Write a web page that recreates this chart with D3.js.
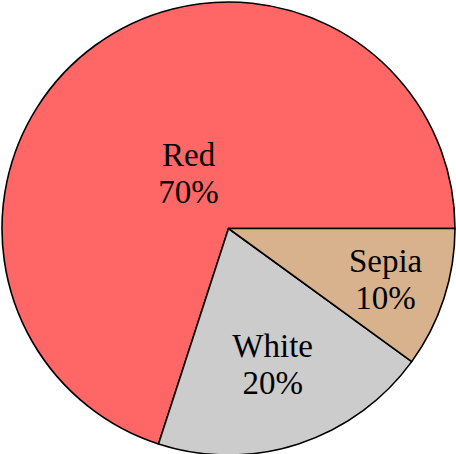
<!DOCTYPE html>
<html>
<head>
<meta charset="utf-8">
<script src="https://cdn.jsdelivr.net/npm/d3@7"></script>
<style>
  html, body { margin: 0; padding: 0; background: #ffffff; }
  svg { display: block; }
</style>
</head>
<body>
<svg id="chart" width="456" height="454"></svg>
<script>
// Slice data
const categories = ["Red", "White", "Sepia"];
const percentages = [70, 20, 10];
const sliceColors = ["#ff6666", "#cccccc", "#d8b28c"];

const width = 456, height = 454;
const cx = 228.5, cy = 228.5, radius = 226.5;

const svg = d3.select("#chart");
const g = svg.append("g").attr("transform", `translate(${cx},${cy})`);

// Slices run counter-clockwise starting from 3 o'clock
const pie = d3.pie()
  .sort(null)
  .value(d => d.value)
  .startAngle(Math.PI / 2)
  .endAngle(Math.PI / 2 - 2 * Math.PI);

const data = categories.map((c, i) => ({ name: c, value: percentages[i], color: sliceColors[i] }));
const arcs = pie(data);

const arc = d3.arc().innerRadius(0).outerRadius(radius);

g.selectAll("path.slice")
  .data(arcs)
  .join("path")
  .attr("class", "slice")
  .attr("d", arc)
  .attr("fill", d => d.data.color)
  .attr("stroke", "#000")
  .attr("stroke-width", 1.6)
  .attr("stroke-linejoin", "round");

// Label distance shrinks for wide slices
function labelRadius(d) {
  const spanDeg = Math.abs(d.endAngle - d.startAngle) * 180 / Math.PI;
  const shift = Math.max(Math.min((spanDeg - 10) / 110 * -0.3, 0), -0.5);
  return (shift + 0.8) * radius;
}

const fontSize = 33;
const lineGap = 37;

const labels = g.selectAll("text.label")
  .data(arcs)
  .join("text")
  .attr("class", "label")
  .attr("text-anchor", "middle")
  .attr("font-family", "'Liberation Serif', 'DejaVu Serif', serif")
  .attr("font-size", fontSize)
  .attr("fill", "#000")
  .attr("transform", d => {
    const mid = (d.startAngle + d.endAngle) / 2;
    const r = labelRadius(d);
    return `translate(${r * Math.sin(mid)},${-r * Math.cos(mid)})`;
  });

labels.append("tspan")
  .attr("x", 0)
  .attr("y", -lineGap / 2 + fontSize * 0.34)
  .text(d => d.data.name);

labels.append("tspan")
  .attr("x", 0)
  .attr("y", lineGap / 2 + fontSize * 0.34)
  .text(d => d.data.value + "%");
</script>
</body>
</html>
